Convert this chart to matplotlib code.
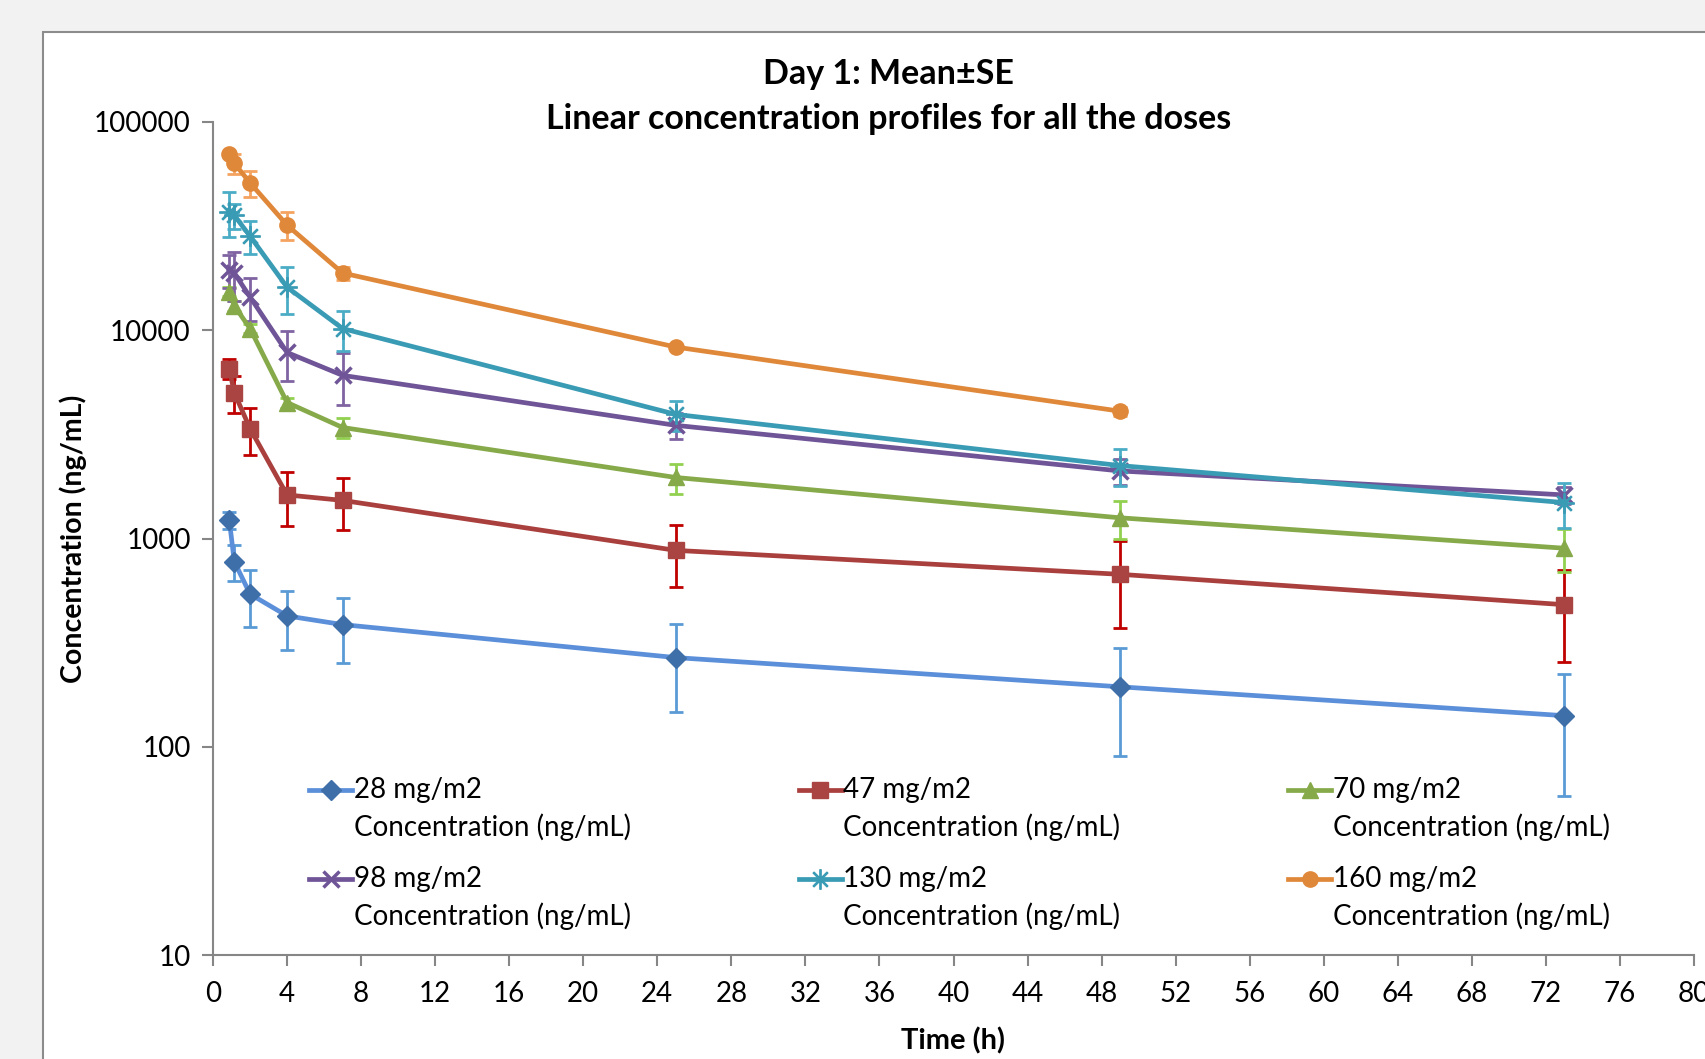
import numpy as np
import matplotlib
matplotlib.use('Agg')
import matplotlib.pyplot as plt
from matplotlib.patches import Rectangle
from matplotlib.legend_handler import HandlerLine2D

plt.rcParams['font.family'] = ['Lato', 'DejaVu Sans']

# sampling times (h)
t = [0.88, 1.15, 2, 4, 7, 25, 49, 73]
t160 = t[:7]

# mean concentrations (ng/mL)
c28 = [1227, 775, 541, 425, 386, 268, 194, 141]
c47 = [6535, 5012, 3373, 1619, 1524, 877, 673, 481]
c70 = [15340, 13120, 10190, 4498, 3412, 1963, 1257, 898]
c98 = [19520, 18830, 14450, 7820, 6073, 3494, 2110, 1619]
c130 = [36900, 35600, 28330, 16100, 10190, 3945, 2239, 1487]
c160 = [69820, 63420, 51050, 31960, 18830, 8304, 4086]

# standard errors
se28 = [115, 152, 165, 133, 134, 121, 104, 83]
se47 = [727, 1000, 850, 470, 420, 290, 300, 225]
se70 = [800, 700, 500, 250, 370, 320, 265, 210]
se98 = [3500, 5000, 3400, 2100, 1700, 500, 300, 150]
se130 = [9000, 5000, 5000, 4100, 2250, 650, 460, 370]
se160 = [1500, 7000, 7200, 4900, 1400, 200, 200]

labels = ['28 mg/m2', '47 mg/m2', '70 mg/m2', '98 mg/m2', '130 mg/m2', '160 mg/m2']

series = [
    (t, c28, se28, '#5b8fd9', '#3f6fa8', '#5b9bd5', 'D', 10),
    (t, c47, se47, '#a9403d', '#a94442', '#c00000', 's', 11),
    (t, c70, se70, '#86a94a', '#86a94a', '#92d050', '^', 11),
    (t, c98, se98, '#6f5597', '#6f5597', '#8064a2', 'x', 12),
    (t, c130, se130, '#3a9bb5', '#3a9bb5', '#4bacc6', '$\u2733$', 14),
    (t160, c160, se160, '#e0883a', '#e0883a', '#f4a460', 'o', 11),
]


class TopHandler(HandlerLine2D):
    def create_artists(self, legend, orig_handle, xdescent, ydescent,
                       width, height, fontsize, trans):
        arts = super().create_artists(legend, orig_handle, xdescent, ydescent,
                                      width, height, fontsize, trans)
        for a in arts:
            a.set_ydata(np.asarray(a.get_ydata(), dtype=float) + 0.72 * fontsize)
        return arts


fig = plt.figure(figsize=(17.06, 10.59), dpi=100)
fig.patch.set_facecolor('#f2f2f2')
frame = Rectangle((43 / 1706, -0.01), 1.0, 1 - 32 / 1059 + 0.01,
                  transform=fig.transFigure, facecolor='white',
                  edgecolor='#8c8c8c', linewidth=1.5, zorder=-10)
fig.add_artist(frame)

ax = fig.add_axes([213 / 1706, 1 - 955 / 1059, (1694 - 213) / 1706, (955 - 122) / 1059])
ax.set_facecolor('none')
ax.set_zorder(5)

handles = []
for (x, y, e, lc, mc, ec, mk, ms), lab in zip(series, labels):
    ax.errorbar(x, y, yerr=e, fmt='none', ecolor=ec, elinewidth=2,
                capsize=5, capthick=2, zorder=2)
    mew = 2.5 if mk == 'x' else 1
    h, = ax.plot(x, y, '-', color=lc, lw=3.4, marker=mk, ms=ms,
                 markerfacecolor=mc, markeredgecolor=mc, markeredgewidth=mew,
                 label=lab + '\nConcentration (ng/mL)', zorder=3)
    handles.append(h)

ax.set_yscale('log')
ax.set_ylim(10, 100000)
ax.set_xlim(0, 80)
ax.set_xticks(np.arange(0, 81, 4))
ax.set_yticks([10, 100, 1000, 10000, 100000])
ax.set_yticklabels(['10', '100', '1000', '10000', '100000'])
ax.minorticks_off()

for s in ['top', 'right']:
    ax.spines[s].set_visible(False)
for s in ['left', 'bottom']:
    ax.spines[s].set_color('#868686')
    ax.spines[s].set_linewidth(1.5)
ax.tick_params(axis='both', colors='#868686', labelcolor='black', labelsize=20,
               length=8, width=1.5, direction='out')
ax.tick_params(axis='x', pad=11)
ax.tick_params(axis='y', pad=8)

ax.set_xlabel('Time (h)', fontsize=21, fontweight='bold', labelpad=14)
ax.set_ylabel('Concentration (ng/mL)', fontsize=20.5, fontweight='bold', labelpad=5)
ax.set_title('Day 1: Mean\u00b1SE\nLinear concentration profiles for all the doses',
             fontsize=24.5, fontweight='bold', linespacing=1.5, pad=0, x=0.456, y=0.991)

# row-major order like the original legend
order = [0, 3, 1, 4, 2, 5]
leg = ax.legend(handles=[handles[i] for i in order], ncol=3, loc='lower left',
                bbox_to_anchor=(0.048, 0.0), frameon=False, fontsize=20,
                handlelength=1.55, handletextpad=0.05, columnspacing=6.05,
                labelspacing=0.9, handler_map={matplotlib.lines.Line2D: TopHandler()})
for txt in leg.get_texts():
    txt.set_linespacing(1.45)

fig.savefig('out.png', dpi=100, facecolor=fig.get_facecolor())
